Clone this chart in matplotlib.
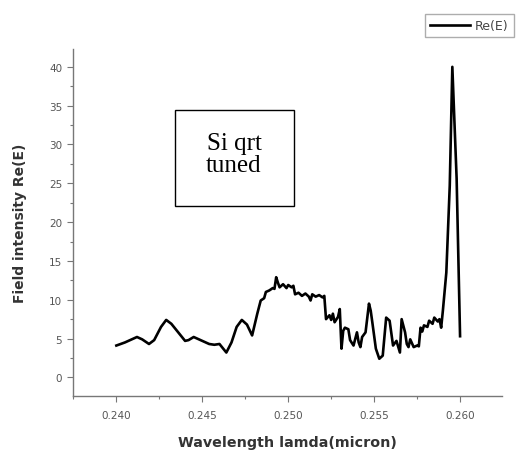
import matplotlib.pyplot as plt
from matplotlib.patches import Rectangle
from matplotlib.ticker import MultipleLocator, FormatStrFormatter

# datos
longitud_onda = [
    0.2400, 0.2405, 0.2410, 0.2412, 0.2415, 0.2419, 0.2422, 0.2426, 0.2429, 0.2432,
    0.2436, 0.2440, 0.2442, 0.2445, 0.2449, 0.2454, 0.2457, 0.2460, 0.2464, 0.2467,
    0.2470, 0.2473, 0.2476, 0.2479, 0.2482, 0.2484, 0.2486, 0.2487, 0.2489, 0.2491,
    0.2492, 0.2493, 0.2494, 0.2495, 0.2497, 0.2499, 0.2500, 0.2502, 0.2503, 0.2504,
    0.2506, 0.2508, 0.2510, 0.2512, 0.2513, 0.2514, 0.2516, 0.2518, 0.2520, 0.2521,
    0.2522, 0.2524, 0.2525, 0.2526, 0.2527, 0.2529, 0.2530, 0.2531, 0.2532, 0.2533,
    0.2535, 0.2536, 0.2538, 0.2540, 0.2541, 0.2542, 0.2543, 0.2545, 0.2547, 0.2548,
    0.2549, 0.2551, 0.2553, 0.2555, 0.2557, 0.2559, 0.2561, 0.2563, 0.2565, 0.2566,
    0.2568, 0.2569, 0.2570, 0.2571, 0.2573, 0.2575, 0.2576, 0.2577, 0.2578, 0.2579,
    0.2581, 0.2582, 0.2584, 0.2585, 0.2587, 0.2588, 0.2589, 0.2590, 0.2592, 0.2594,
    0.25955, 0.25965, 0.2598, 0.2600,
]
intensidad = [
    4.1, 4.5, 5.0, 5.2, 4.9, 4.3, 4.8, 6.5, 7.4, 6.9,
    5.8, 4.7, 4.8, 5.2, 4.8, 4.3, 4.2, 4.3, 3.2, 4.5,
    6.5, 7.4, 6.8, 5.4, 8.2, 9.9, 10.2, 11.0, 11.2, 11.5,
    11.4, 12.9, 12.2, 11.6, 12.0, 11.5, 11.9, 11.6, 11.8, 10.7,
    10.9, 10.5, 10.8, 10.4, 9.9, 10.7, 10.4, 10.6, 10.3, 10.5,
    7.5, 8.0, 7.4, 8.2, 7.1, 7.8, 8.8, 3.7, 6.0, 6.4,
    6.2, 4.8, 4.1, 5.8, 4.5, 3.9, 5.2, 5.8, 9.5, 8.6,
    7.0, 3.7, 2.4, 2.8, 7.7, 7.3, 4.1, 4.7, 3.2, 7.5,
    5.8, 4.3, 3.9, 4.9, 3.9, 4.1, 4.0, 6.4, 5.9, 6.7,
    6.5, 7.3, 6.9, 7.7, 7.2, 7.5, 6.4, 8.6, 13.5, 24.7,
    40.0, 34.2, 25.6, 5.3,
]

W, H = 521, 452
fig = plt.figure(figsize=(W / 100, H / 100), dpi=100)
ax = fig.add_axes([72.7 / W, 1 - 397 / H, (502 - 72.7) / W, (397 - 50) / H])

ax.plot(longitud_onda, intensidad, color='black', linewidth=1.9, label='Re(E)')

ax.set_xlim(0.23746, 0.26244)
ax.set_ylim(-2.4, 42.3)
ax.xaxis.set_major_locator(MultipleLocator(0.005))
ax.xaxis.set_minor_locator(MultipleLocator(0.0025))
ax.xaxis.set_major_formatter(FormatStrFormatter('%.3f'))
ax.yaxis.set_major_locator(MultipleLocator(5))
ax.yaxis.set_minor_locator(MultipleLocator(2.5))

for lado in ['top', 'right']:
    ax.spines[lado].set_visible(False)
for lado in ['left', 'bottom']:
    ax.spines[lado].set_color('#777777')
    ax.spines[lado].set_linewidth(1.0)

ax.tick_params(which='major', direction='out', length=4, width=0.8,
               colors='#777777', labelcolor='#555555', labelsize=7.5)
ax.tick_params(axis='x', which='major', pad=6)
ax.tick_params(which='minor', direction='out', length=2, width=0.8, colors='#777777')

ax.set_xlabel('Wavelength lamda(micron)', fontsize=10.3, fontweight='bold',
              color='#333333', labelpad=11)
ax.set_ylabel('Field intensity Re(E)', fontsize=10, fontweight='bold',
              color='#333333', labelpad=16)

# cuadro de texto
caja = Rectangle((175 / W, 1 - 207 / H), 119 / W, 96 / H, transform=fig.transFigure,
                 facecolor='white', edgecolor='black', linewidth=1.0, zorder=5)
fig.patches.append(caja)
fig.text(234 / W, 1 - 155 / H, 'Si qrt\ntuned', ha='center', va='center',
         fontsize=18, family='Liberation Serif', linespacing=1.05, zorder=6)

leg = fig.legend(loc='upper right', bbox_to_anchor=(520 / W, 1 - 9 / H),
                 fontsize=9, frameon=True, fancybox=False, handlelength=3.2,
                 borderpad=0.4, handletextpad=0.4)
leg.get_frame().set_edgecolor('#999999')
leg.get_frame().set_linewidth(1.0)
for t in leg.get_texts():
    t.set_color('#444444')

fig.savefig('out.png', dpi=100)
